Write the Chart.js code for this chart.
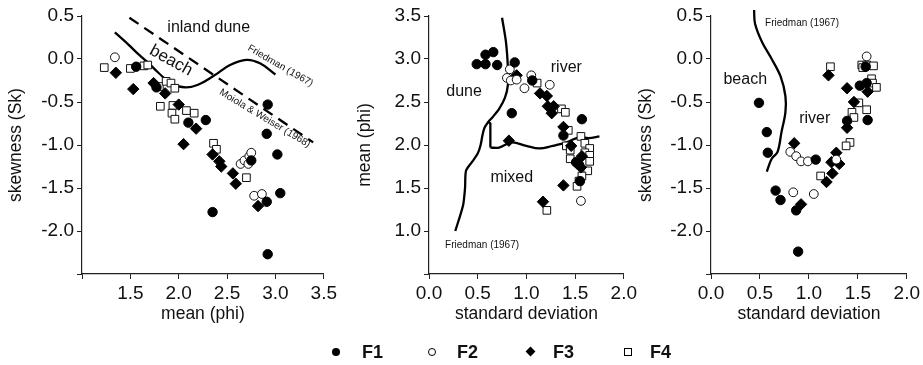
<!DOCTYPE html>
<html>
<head>
<meta charset="utf-8">
<script src="https://cdn.jsdelivr.net/npm/chart.js@4.4.0/dist/chart.umd.min.js"></script>
<style>
body { margin: 0; background: #fff; width: 923px; height: 365px; position: relative; overflow: hidden;
       font-family: "Liberation Sans", Arial, Helvetica, sans-serif; }
canvas { position: absolute; top: 0; }
#legend { position: absolute; top: 341px; left: 0; width: 923px; height: 22px; }
.item { position: absolute; top: 0; height: 22px; line-height: 22px; font-weight: bold; font-size: 18px; color: #111; }
.mk { position: absolute; box-sizing: border-box; }
</style>
</head>
<body>
<canvas id="c1" width="340" height="330" style="left:0px"></canvas>
<canvas id="c2" width="310" height="330" style="left:330px"></canvas>
<canvas id="c3" width="303" height="330" style="left:620px"></canvas>
<div id="legend">
  <span class="mk" style="left:332px;top:7px;width:8px;height:8px;border-radius:50%;background:#000"></span>
  <span class="item" style="left:362px">F1</span>
  <span class="mk" style="left:428px;top:7px;width:8px;height:8px;border-radius:50%;border:1px solid #000"></span>
  <span class="item" style="left:457px">F2</span>
  <span class="mk" style="left:527px;top:7px;width:7px;height:7px;background:#000;transform:rotate(45deg)"></span>
  <span class="item" style="left:553px">F3</span>
  <span class="mk" style="left:624px;top:7px;width:8px;height:8px;border:1px solid #000"></span>
  <span class="item" style="left:650px">F4</span>
</div>
<script>
// panel 1: mean (phi) vs skewness
var meanSkF1 = [[1.56,-0.09],[1.77,-0.33],[2.10,-0.74],[2.28,-0.71],[2.35,-1.78],[2.75,-1.18],[2.91,-0.87],[2.92,-0.53],[3.02,-1.11],[3.05,-1.56],[2.91,-1.66],[2.92,-2.27]];
var meanSkF2 = [[1.34,0.02],[2.64,-1.22],[2.68,-1.18],[2.72,-1.22],[2.73,-1.13],[2.75,-1.09],[2.78,-1.59],[2.86,-1.57]];
var meanSkF3 = [[1.35,-0.16],[1.53,-0.35],[1.74,-0.28],[1.86,-0.40],[2.00,-0.53],[2.18,-0.81],[2.05,-0.99],[2.35,-1.11],[2.42,-1.19],[2.44,-1.25],[2.56,-1.33],[2.59,-1.45],[2.82,-1.71]];
var meanSkF4 = [[1.23,-0.10],[1.50,-0.11],[1.64,-0.08],[1.68,-0.07],[1.80,-0.32],[1.87,-0.26],[1.92,-0.28],[1.96,-0.34],[1.81,-0.55],[1.94,-0.54],[1.93,-0.63],[1.96,-0.70],[2.08,-0.60],[2.16,-0.63],[2.36,-0.98],[2.39,-1.05],[2.70,-1.38]];
var meanSkFriedman = [[1.34,0.31],[1.45,0.20],[1.56,0.08],[1.68,-0.04],[1.79,-0.16],[1.93,-0.29],[2.07,-0.33],[2.20,-0.30],[2.37,-0.19],[2.53,-0.07],[2.70,-0.01],[2.84,-0.05],[3.00,-0.18]];
var meanSkMoiola = [[1.49,0.48],[3.39,-0.97]];

// panel 2: standard deviation vs mean (phi)
var sdMeanF1 = [[0.49,2.94],[0.58,2.94],[0.58,3.05],[0.66,3.08],[0.70,2.93],[0.88,2.96],[1.06,2.75],[0.85,2.37],[1.57,2.30],[1.38,2.11],[1.51,1.80],[1.54,1.77],[1.55,1.58]];
var sdMeanF2 = [[0.83,2.88],[0.80,2.78],[0.84,2.75],[0.90,2.76],[0.98,2.66],[1.05,2.81],[1.24,2.70],[1.56,1.35]];
var sdMeanF3 = [[0.90,2.81],[1.14,2.60],[1.21,2.57],[1.22,2.45],[1.28,2.45],[1.26,2.37],[1.38,2.21],[0.82,2.05],[1.46,1.99],[1.57,1.87],[1.56,1.74],[1.38,1.53],[1.17,1.34]];
var sdMeanF4 = [[1.11,2.72],[1.36,2.42],[1.40,2.38],[1.43,2.17],[1.56,2.10],[1.41,1.99],[1.45,1.94],[1.60,2.02],[1.65,1.96],[1.60,1.91],[1.65,1.88],[1.65,1.81],[1.45,1.84],[1.63,1.70],[1.57,1.64],[1.54,1.58],[1.52,1.52],[1.21,1.24]];
var sdMeanDuneLine = [[0.75,3.48],[0.79,3.20],[0.81,2.90],[0.81,2.70],[0.78,2.55],[0.72,2.42],[0.65,2.32],[0.61,2.27],[0.57,2.20],[0.55,2.12],[0.53,2.00],[0.50,1.90],[0.44,1.80],[0.38,1.70],[0.37,1.50],[0.35,1.30],[0.27,1.00]];
var sdMeanStem = [[0.61,2.27],[0.63,2.25],[0.63,1.97]];
var sdMeanMixedLine = [[0.63,1.97],[0.72,1.97],[0.85,2.03],[1.00,1.99],[1.13,1.96],[1.27,1.99],[1.41,2.03],[1.54,2.09],[1.64,2.08],[1.75,2.10]];

// panel 3: standard deviation vs skewness
var sdSkF1 = [[0.49,-0.51],[0.57,-0.85],[0.58,-1.09],[1.07,-1.17],[0.66,-1.53],[0.71,-1.64],[0.87,-1.76],[0.89,-2.24],[1.58,-0.09],[1.52,-0.31],[1.59,-0.28],[1.39,-0.72],[1.60,-0.71]];
var sdSkF2 = [[1.59,0.03],[0.81,-1.08],[0.87,-1.13],[0.92,-1.19],[0.99,-1.19],[1.28,-1.17],[0.84,-1.55],[1.05,-1.57]];
var sdSkF3 = [[1.20,-0.19],[1.39,-0.34],[1.60,-0.38],[1.46,-0.50],[1.39,-0.80],[0.85,-0.98],[1.28,-1.09],[1.23,-1.20],[1.31,-1.22],[1.24,-1.33],[1.18,-1.43],[0.92,-1.69]];
var sdSkF4 = [[1.22,-0.09],[1.54,-0.07],[1.59,-0.07],[1.66,-0.08],[1.55,-0.10],[1.64,-0.23],[1.65,-0.28],[1.69,-0.33],[1.51,-0.51],[1.44,-0.62],[1.46,-0.68],[1.59,-0.59],[1.42,-0.97],[1.38,-1.01],[1.12,-1.36]];
var sdSkFriedman = [[0.44,0.57],[0.45,0.41],[0.52,0.20],[0.62,0.00],[0.71,-0.20],[0.76,-0.43],[0.76,-0.62],[0.72,-0.85],[0.68,-1.08],[0.62,-1.16],[0.57,-1.31]];

var FONT = '"Liberation Sans", Arial, Helvetica, sans-serif';
Chart.defaults.font.family = FONT;
Chart.defaults.color = '#111';

function pts(a) {
    return a.map(function (p) { return { x: p[0], y: p[1] }; });
}

function markers(f1, f2, f3, f4) {
    return [
        { label: 'F1', data: pts(f1), pointStyle: 'circle', pointRadius: 4.7, pointBackgroundColor: '#000', pointBorderColor: '#000', pointBorderWidth: 1 },
        { label: 'F2', data: pts(f2), pointStyle: 'circle', pointRadius: 4.4, pointBackgroundColor: '#fff', pointBorderColor: '#111', pointBorderWidth: 1 },
        { label: 'F3', data: pts(f3), pointStyle: 'rectRot', pointRadius: 5.7, pointBackgroundColor: '#000', pointBorderColor: '#000', pointBorderWidth: 1 },
        { label: 'F4', data: pts(f4), pointStyle: 'rect', pointRadius: 5.4, pointBackgroundColor: '#fff', pointBorderColor: '#111', pointBorderWidth: 1 }
    ];
}

function curve(a, dash, tension) {
    return { data: pts(a), showLine: true, pointRadius: 0, borderColor: '#000', borderWidth: 2.3,
             borderDash: dash || [], tension: tension, clip: false };
}

// text labels placed in data units through the chart's scales
function notes(items) {
    return {
        id: 'notes',
        afterDatasetsDraw: function (chart) {
            var ctx = chart.ctx, xs = chart.scales.x, ys = chart.scales.y;
            items.forEach(function (n) {
                ctx.save();
                ctx.translate(xs.getPixelForValue(n[1]), ys.getPixelForValue(n[2]));
                ctx.rotate((n[4] || 0) * Math.PI / 180);
                ctx.font = n[3] + 'px ' + FONT;
                ctx.fillStyle = '#111';
                ctx.textAlign = 'center';
                ctx.textBaseline = 'middle';
                ctx.fillText(n[0], 0, 0);
                ctx.restore();
            });
        }
    };
}

function axis(min, max, title, skip, fit, titlePad) {
    return {
        type: 'linear', min: min, max: max,
        afterFit: fit,
        ticks: {
            stepSize: 0.5, padding: 3, font: { size: 19 }, color: '#111',
            callback: function (v) { return Math.abs(v - skip) < 1e-9 ? '' : v.toFixed(1); }
        },
        grid: { display: true, drawOnChartArea: false, drawTicks: true, tickLength: 5, color: '#222', lineWidth: 1 },
        border: { display: true, color: '#222', width: 1.2 },
        title: { display: true, text: title, font: { size: 17.5 }, color: '#111', padding: titlePad }
    };
}

function makeChart(id, datasets, xs, ys, padRight, items) {
    return new Chart(document.getElementById(id).getContext('2d'), {
        type: 'scatter',
        data: { datasets: datasets },
        options: {
            responsive: false, animation: false,
            layout: { padding: { top: 16, right: padRight, left: 0, bottom: 0 } },
            plugins: { legend: { display: false }, tooltip: { enabled: false } },
            scales: { x: xs, y: ys }
        },
        plugins: [notes(items)]
    });
}

makeChart('c1',
    markers(meanSkF1, meanSkF2, meanSkF3, meanSkF4).concat([
        curve(meanSkFriedman, [], 0.4),
        curve(meanSkMoiola, [11, 7], 0)
    ]),
    axis(1.0, 3.5, 'mean (phi)', 1.0, function (s) { s.height = 56; }, { top: 0, bottom: 5 }),
    axis(-2.5, 0.5, 'skewness (Sk)', -2.5, function (s) { s.width = 82; }, { top: 6, bottom: 0 }),
    12,
    [['inland dune', 2.31, 0.37, 16, 0],
     ['beach', 1.92, -0.02, 17, 29],
     ['Friedman (1967)', 3.05, -0.08, 10, 30],
     ['Moiola & Weiser (1968)', 2.89, -0.69, 10, 31]]
);

makeChart('c2',
    markers(sdMeanF1, sdMeanF2, sdMeanF3, sdMeanF4).concat([
        curve(sdMeanDuneLine, [], 0.25),
        curve(sdMeanStem, [], 0),
        curve(sdMeanMixedLine, [], 0.35)
    ]),
    axis(0.0, 2.0, 'standard deviation', -99, function (s) { s.height = 56; }, { top: 0, bottom: 5 }),
    axis(0.5, 3.5, 'mean (phi)', 0.5, function (s) { s.width = 99; }, { top: 25, bottom: 0 }),
    15,
    [['dune', 0.36, 2.62, 16, 0],
     ['river', 1.41, 2.90, 16, 0],
     ['mixed', 0.85, 1.62, 16, 0],
     ['Friedman (1967)', 0.545, 0.84, 10, 0]]
);

makeChart('c3',
    markers(sdSkF1, sdSkF2, sdSkF3, sdSkF4).concat([
        curve(sdSkFriedman, [], 0.35)
    ]),
    axis(0.0, 2.0, 'standard deviation', -99, function (s) { s.height = 56; }, { top: 0, bottom: 5 }),
    axis(-2.5, 0.5, 'skewness (Sk)', -2.5, function (s) { s.width = 91; }, { top: 16, bottom: 0 }),
    16,
    [['beach', 0.35, -0.24, 16, 0],
     ['river', 1.06, -0.69, 16, 0],
     ['Friedman (1967)', 0.93, 0.42, 10, 0]]
);
</script>
</body>
</html>
